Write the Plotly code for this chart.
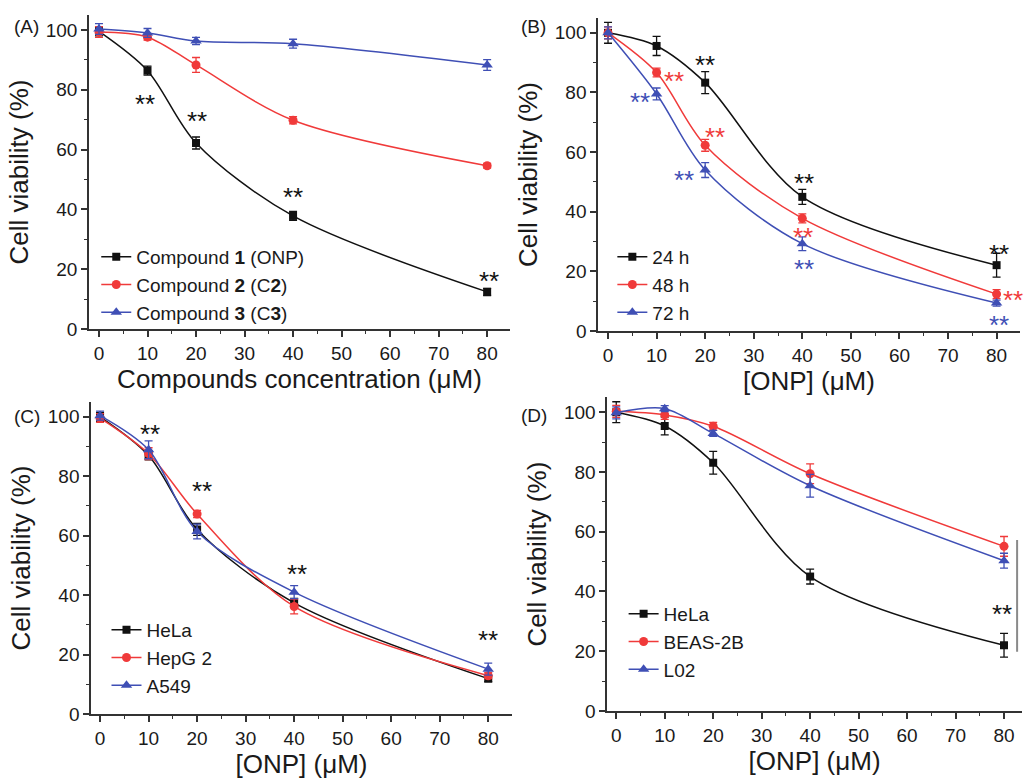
import plotly.graph_objects as go

# ---------------- data ----------------
conc = [0, 10, 20, 40, 80]

# Panel A
a_names = ["Compound <b>1</b> (ONP)", "Compound <b>2</b> (C<b>2</b>)", "Compound <b>3</b> (C<b>3</b>)"]
a_c1 = [99.5, 86.4, 62.2, 37.8, 12.4]
a_c2 = [99.3, 97.6, 88.3, 69.8, 54.6]
a_c3 = [100.3, 99.0, 96.3, 95.4, 88.3]
a_c1_err = [1.5, 1.5, 2.0, 1.5, 1.2]
a_c2_err = [1.8, 1.0, 2.5, 1.2, 0.8]
a_c3_err = [1.8, 1.5, 1.2, 1.5, 1.8]

# Panel B
b_names = ["24 h", "48 h", "72 h"]
b_24 = [100.0, 95.6, 83.3, 45.0, 22.1]
b_48 = [100.0, 86.7, 62.3, 37.8, 12.4]
b_72 = [100.0, 79.5, 54.0, 29.3, 9.4]
b_24_err = [3.5, 3.2, 3.7, 2.5, 4.0]
b_48_err = [2.0, 1.5, 2.0, 1.5, 1.5]
b_72_err = [2.0, 2.0, 2.5, 2.3, 1.0]

# Panel C
c_names = ["HeLa", "HepG 2", "A549"]
c_hela = [100.0, 87.0, 62.1, 37.4, 11.9]
c_hepg2 = [99.6, 87.6, 67.3, 36.2, 12.9]
c_a549 = [100.4, 88.9, 61.4, 41.0, 15.1]
c_hela_err = [1.5, 1.5, 2.0, 1.5, 1.0]
c_hepg2_err = [1.5, 2.0, 1.2, 2.5, 1.0]
c_a549_err = [1.5, 3.0, 2.5, 2.2, 2.0]

# Panel D
d_names = ["HeLa", "BEAS-2B", "L02"]
d_hela = [100.0, 95.4, 83.1, 45.0, 22.0]
d_beas = [100.3, 99.1, 95.3, 79.4, 55.1]
d_l02 = [99.8, 101.2, 92.9, 75.4, 50.3]
d_hela_err = [3.5, 3.0, 3.8, 2.5, 4.0]
d_beas_err = [2.0, 1.5, 1.3, 3.3, 3.3]
d_l02_err = [2.0, 1.0, 1.0, 3.8, 2.5]

x_ticks = [0, 10, 20, 30, 40, 50, 60, 70, 80]
y_ticks = [0, 20, 40, 60, 80, 100]

# ---------------- styles ----------------
BLACK = "#111111"
RED = "#f03a3a"
BLUE = "#3f4fb5"
colors = [BLACK, RED, BLUE]
symbols = ["square", "circle", "triangle-up"]
msizes = [8, 9, 10]
FONT = "Liberation Sans, Arial, sans-serif"

fig = go.Figure()

panels = [
    ("", "", "legend", a_names, [a_c1, a_c2, a_c3], [a_c1_err, a_c2_err, a_c3_err]),
    ("2", "2", "legend2", b_names, [b_24, b_48, b_72], [b_24_err, b_48_err, b_72_err]),
    ("3", "3", "legend3", c_names, [c_hela, c_hepg2, c_a549], [c_hela_err, c_hepg2_err, c_a549_err]),
    ("4", "4", "legend4", d_names, [d_hela, d_beas, d_l02], [d_hela_err, d_beas_err, d_l02_err]),
]

for xs, ys, leg, names, series, errs in panels:
    for i in range(3):
        fig.add_trace(go.Scatter(
            x=conc, y=series[i], name=names[i],
            mode="lines+markers",
            line=dict(color=colors[i], width=1.5, shape="spline", smoothing=0.9),
            marker=dict(symbol=symbols[i], size=msizes[i], color=colors[i]),
            error_y=dict(type="data", array=errs[i], color=colors[i], thickness=1.3, width=4),
            xaxis="x" + xs, yaxis="y" + ys, legend=leg,
        ))

axis_common = dict(
    showline=True, linecolor="#333333", linewidth=1.5,
    ticks="outside", ticklen=6, tickwidth=1.5, tickcolor="#333333",
    showgrid=False, zeroline=False, automargin=False,
    tickfont=dict(family=FONT, size=19, color="#1a1a1a"),
    title_font=dict(family=FONT, size=26, color="#1a1a1a"),
    mirror=False,
)

x_domains = [[0.0869, 0.498], [0.584, 0.996], [0.0889, 0.500], [0.593, 0.998]]
y_domains = [[0.5777, 0.9807], [0.575, 0.977], [0.0834, 0.484], [0.0873, 0.490]]
x_ranges = [[-2.06, 84.7], [-2.06, 84.8], [-1.86, 84.9], [-1.86, 83.7]]
x_titles = ["Compounds concentration (μM)", "[ONP] (μM)", "[ONP] (μM)", "[ONP] (μM)"]

layout = dict(
    width=1024, height=779,
    margin=dict(l=0, r=0, t=0, b=0),
    paper_bgcolor="white", plot_bgcolor="white",
    font=dict(family=FONT, color="#1a1a1a"),
)

for k in range(4):
    sfx = "" if k == 0 else str(k + 1)
    layout["xaxis" + sfx] = dict(
        axis_common, domain=x_domains[k], range=x_ranges[k],
        tickmode="array", tickvals=x_ticks,
        minor=dict(ticks="outside", ticklen=3, tickwidth=1.2, tickcolor="#333333", dtick=5, tick0=0),
        title=dict(text=x_titles[k], standoff=6),
        anchor="y" + sfx,
    )
    layout["yaxis" + sfx] = dict(
        axis_common, domain=y_domains[k], range=[0, 105],
        tickmode="array", tickvals=y_ticks,
        minor=dict(ticks="outside", ticklen=3, tickwidth=1.2, tickcolor="#333333", dtick=10, tick0=0),
        title=dict(text="Cell viability (%)", standoff=10),
        anchor="x" + sfx,
    )

legend_pos = [(0.094, 1 - 238 / 779), (0.598, 1 - 238 / 779), (0.104, 1 - 611 / 779), (0.609, 1 - 595 / 779)]
for k, (lx, ly) in enumerate(legend_pos):
    key = "legend" if k == 0 else "legend" + str(k + 1)
    layout[key] = dict(
        x=lx, y=ly, xanchor="left", yanchor="top",
        bgcolor="rgba(0,0,0,0)", tracegroupgap=0,
        font=dict(family=FONT, size=19, color="#1a1a1a"),
    )

fig.update_layout(**layout)

# significance stars: (axis suffix, x, y, color)
stars = [
    ("", 9.5, 77.7, BLACK), ("", 20.1, 71.8, BLACK), ("", 39.9, 46.5, BLACK), ("", 80.4, 18.3, BLACK),
    ("2", 19.9, 91.5, BLACK), ("2", 13.5, 86.2, RED), ("2", 6.6, 79.0, BLUE),
    ("2", 22.1, 67.4, RED), ("2", 15.7, 52.9, BLUE),
    ("2", 40.3, 52.1, BLACK), ("2", 40.1, 33.9, RED), ("2", 40.3, 23.0, BLUE),
    ("2", 80.4, 28.3, BLACK), ("2", 83.4, 12.6, RED), ("2", 80.4, 4.3, BLUE),
    ("3", 10.2, 96.7, BLACK), ("3", 21.1, 77.3, BLACK), ("3", 40.5, 49.6, BLACK), ("3", 80.0, 27.2, BLACK),
    ("4", 79.6, 34.9, BLACK),
]
for sfx, sx, sy, col in stars:
    fig.add_annotation(
        x=sx, y=sy, xref="x" + sfx, yref="y" + sfx, text="**", showarrow=False,
        font=dict(family=FONT, size=26, color=col), yshift=-7,
        xanchor="center", yanchor="middle",
    )

# panel labels
for lab, px, py in [("(A)", 12, 27), ("(B)", 519, 27), ("(C)", 12, 416), ("(D)", 519, 415)]:
    fig.add_annotation(
        x=px / 1024, y=1 - py / 779, xref="paper", yref="paper", text=lab, showarrow=False,
        font=dict(family=FONT, size=19, color="#1a1a1a"), xanchor="left", yanchor="middle",
    )

# significance bracket in panel D
fig.add_shape(type="line", xref="x4", yref="y4", x0=82.7, x1=82.7, y0=19.8, y1=57.2,
              line=dict(color="#8a8a8a", width=2))

fig.write_html("out.html", post_script="document.body.style.margin='0';",
               config={"displayModeBar": False})
